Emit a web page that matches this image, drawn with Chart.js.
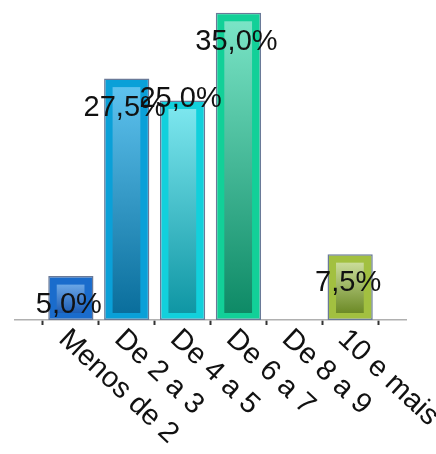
<!DOCTYPE html>
<html>
<head>
<meta charset="utf-8">
<script src="https://cdn.jsdelivr.net/npm/chart.js@4.4.0/dist/chart.umd.min.js"></script>
<style>
html,body{margin:0;padding:0;background:#fff;}
#wrap{width:436px;height:454px;position:relative;}
</style>
</head>
<body>
<div id="wrap"><canvas id="c" width="436" height="454"></canvas></div>
<script>
const categories = ["Menos de 2", "De 2 a 3", "De 4 a 5", "De 6 a 7", "De 8 a 9", "10 e mais"];
const values = [5.0, 27.5, 25.0, 35.0, 0, 7.5];
const valueLabels = ["5,0%", "27,5%", "25,0%", "35,0%", "", "7,5%"];

const outerColors = ["#1a6ccc", "#0aa0d8", "#12d0dc", "#12d098", "#cccccc", "#a2c040"];
const innerTop = ["#6aa6e6", "#5ec2ee", "#7ce6ee", "#7ae4c6", "#dddddd", "#cadc9a"];
const innerBottom = ["#1c5cb4", "#0a6e9c", "#0f96a4", "#0e8a66", "#aaaaaa", "#6c8a26"];

// padded axis: an empty slot on each side, as in the reference axis
const labels = [""].concat(categories, [""]);
const data = [null].concat(values, [null]);
const idx = i => i - 1;

const FONT = "29px 'Liberation Sans', Arial, sans-serif";

const innerPlugin = {
  id: 'inner',
  afterDatasetsDraw(chart) {
    const ctx = chart.ctx;
    const meta = chart.getDatasetMeta(0);
    meta.data.forEach((el, i) => {
      const k = idx(i);
      if (k < 0 || k >= values.length || !values[k]) return;
      const p = el.getProps(['x', 'y', 'base', 'width'], true);
      const left = p.x - p.width / 2, right = p.x + p.width / 2;
      const top = Math.min(p.y, p.base), bottom = Math.max(p.y, p.base);
      const ins = 8;
      const x0 = left + ins + 0.5, x1 = right - ins - 1;
      const y0 = top + ins + 0.5, y1 = bottom - 7;
      if (y1 <= y0) return;
      const g = ctx.createLinearGradient(0, y0, 0, y1);
      g.addColorStop(0, innerTop[k]);
      g.addColorStop(1, innerBottom[k]);
      ctx.save();
      ctx.fillStyle = g;
      ctx.fillRect(x0, y0, x1 - x0, y1 - y0);
      ctx.restore();
    });
  },
  afterDraw(chart) {
    const ctx = chart.ctx;
    const meta = chart.getDatasetMeta(0);
    const xs = chart.scales.x;
    ctx.save();
    ctx.font = FONT;
    // value labels
    ctx.fillStyle = "#111";
    ctx.textAlign = "center";
    ctx.textBaseline = "middle";
    let prev = null;
    meta.data.forEach((el, i) => {
      const k = idx(i);
      if (k < 0 || k >= values.length || !values[k]) return;
      const p = el.getProps(['x', 'y'], true);
      const w = ctx.measureText(valueLabels[k]).width;
      let cy = p.y + 29;
      const box = {l: p.x - w / 2, r: p.x + w / 2, t: cy - 11, b: cy + 11};
      if (prev && box.l < prev.r && box.r > prev.l && box.t < prev.b && box.b > prev.t) {
        cy = p.y - 2;
        box.t = cy - 11; box.b = cy + 11;
      }
      ctx.fillText(valueLabels[k], p.x - 2, cy);
      prev = box;
    });
    // rotated category labels
    ctx.textAlign = "left";
    ctx.textBaseline = "middle";
    categories.forEach((c, k) => {
      const x = xs.getPixelForTick(k + 1);
      ctx.save();
      ctx.translate(x - 8, 335);
      ctx.rotate(43 * Math.PI / 180);
      ctx.fillText(c, 0, 0);
      ctx.restore();
    });
    ctx.restore();
  }
};

new Chart(document.getElementById('c'), {
  type: 'bar',
  data: {
    labels: labels,
    datasets: [{
      data: data,
      backgroundColor: [null].concat(outerColors, [null]),
      borderColor: "#6a7a98",
      borderWidth: 1.5,
      borderSkipped: false,
      barPercentage: 0.9,
      categoryPercentage: 0.9
    }]
  },
  options: {
    responsive: false,
    animation: false,
    layout: {padding: {left: 15, right: 30, top: 4, bottom: 129}},
    plugins: {legend: {display: false}, tooltip: {enabled: false}},
    scales: {
      x: {
        offset: false,
        grid: {drawOnChartArea: false, drawTicks: true, tickLength: 5, tickColor: "#333", tickWidth: 2},
        border: {display: true, color: "#b0b0b0", width: 1.5},
        ticks: {display: false}
      },
      y: {
        display: false,
        min: 0,
        max: 36
      }
    }
  },
  plugins: [innerPlugin]
});
</script>
</body>
</html>
